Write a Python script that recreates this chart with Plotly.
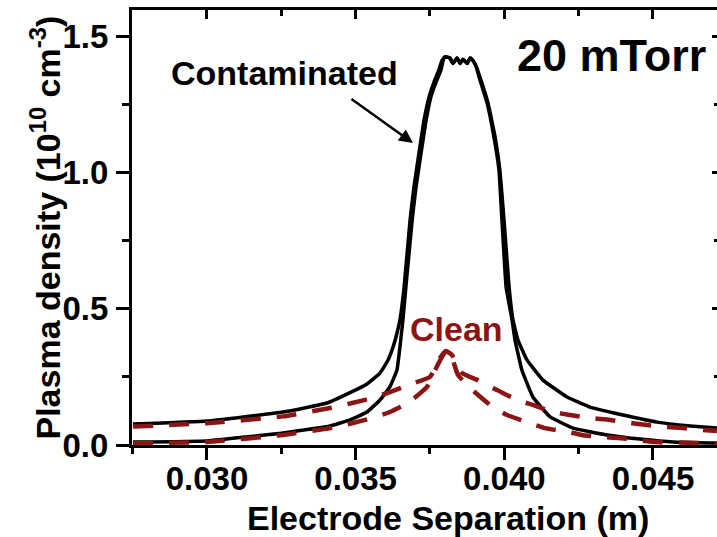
import plotly.graph_objects as go

# Electrode separation (m) and plasma density (1e10 cm^-3) profiles, 20 mTorr
contam_wide_x = [0.02751, 0.03000, 0.03256, 0.03404, 0.03481, 0.03538, 0.03582, 0.03609,
                 0.03626, 0.03639, 0.03649, 0.03663, 0.03683, 0.03696, 0.03713, 0.03730,
                 0.03747, 0.03763, 0.03780, 0.03790, 0.03801, 0.03817, 0.03827, 0.03841,
                 0.03851, 0.03861, 0.03875, 0.03885, 0.03895, 0.03905, 0.03918, 0.03945,
                 0.03969, 0.03985, 0.03999, 0.04016, 0.04029, 0.04046, 0.04076, 0.04130,
                 0.04211, 0.04288, 0.04399, 0.04514, 0.04625, 0.04715]
contam_wide_y = [0.077, 0.088, 0.121, 0.154, 0.192, 0.224, 0.264, 0.312,
                 0.360, 0.410, 0.459, 0.580, 0.825, 0.946, 1.071, 1.192,
                 1.277, 1.330, 1.376, 1.410, 1.425, 1.420, 1.400, 1.420,
                 1.400, 1.415, 1.400, 1.420, 1.410, 1.390, 1.350, 1.255,
                 1.130, 1.009, 0.825, 0.580, 0.459, 0.385, 0.312, 0.238,
                 0.176, 0.139, 0.110, 0.084, 0.070, 0.062]

contam_narrow_x = [0.02751, 0.03000, 0.03256, 0.03414, 0.03481, 0.03538, 0.03582, 0.03615,
                   0.03639, 0.03649, 0.03659, 0.03669, 0.03690, 0.03703, 0.03720, 0.03737,
                   0.03753, 0.03770, 0.03787, 0.03794, 0.03801, 0.03817, 0.03827, 0.03841,
                   0.03851, 0.03861, 0.03875, 0.03885, 0.03895, 0.03905, 0.03915, 0.03942,
                   0.03965, 0.03982, 0.03992, 0.04006, 0.04026, 0.04036, 0.04059, 0.04096,
                   0.04154, 0.04231, 0.04345, 0.04456, 0.04567, 0.04715]
contam_narrow_y = [0.011, 0.015, 0.044, 0.070, 0.092, 0.121, 0.165, 0.213,
                   0.275, 0.360, 0.459, 0.580, 0.825, 0.946, 1.071, 1.192,
                   1.277, 1.330, 1.376, 1.410, 1.425, 1.420, 1.400, 1.420,
                   1.400, 1.415, 1.400, 1.420, 1.410, 1.390, 1.350, 1.255,
                   1.130, 1.009, 0.825, 0.580, 0.459, 0.385, 0.275, 0.176,
                   0.103, 0.062, 0.037, 0.022, 0.011, 0.007]

clean_wide_x = [0.02751, 0.03000, 0.03256, 0.03414, 0.03488, 0.03555, 0.03615, 0.03676,
                0.03750, 0.03784, 0.03804, 0.03824, 0.03858, 0.03911, 0.03952, 0.03979,
                0.04043, 0.04096, 0.04164, 0.04221, 0.04288, 0.04355, 0.04423, 0.04480,
                0.04547, 0.04601, 0.04668, 0.04715]
clean_wide_y = [0.068, 0.080, 0.105, 0.136, 0.154, 0.172, 0.194, 0.220,
                0.250, 0.320, 0.345, 0.330, 0.264, 0.238, 0.213, 0.200,
                0.165, 0.147, 0.121, 0.110, 0.099, 0.092, 0.081, 0.073,
                0.066, 0.062, 0.055, 0.051]

clean_narrow_x = [0.02751, 0.03000, 0.03256, 0.03414, 0.03488, 0.03555, 0.03615, 0.03676,
                  0.03740, 0.03774, 0.03804, 0.03824, 0.03844, 0.03885, 0.03952, 0.04009,
                  0.04076, 0.04137, 0.04204, 0.04261, 0.04328, 0.04382, 0.04450, 0.04507,
                  0.04625, 0.04715]
clean_narrow_y = [0.007, 0.011, 0.037, 0.062, 0.080, 0.099, 0.121, 0.154,
                  0.213, 0.290, 0.345, 0.320, 0.257, 0.209, 0.147, 0.110,
                  0.084, 0.062, 0.050, 0.037, 0.029, 0.026, 0.018, 0.011,
                  0.008, 0.005]

X_RANGE = [0.027478, 0.047153]
Y_RANGE = [0.0, 1.596]

FONT = "Liberation Sans, Arial, Helvetica, sans-serif"
BLACK = "#000000"
RED = "#8b1515"

fig = go.Figure()

for xs, ys in [(contam_wide_x, contam_wide_y), (contam_narrow_x, contam_narrow_y)]:
    fig.add_trace(go.Scatter(x=xs, y=ys, mode="lines",
                             line=dict(color=BLACK, width=3.5, shape="spline", smoothing=0.3),
                             hoverinfo="skip"))

# dashed clean profiles sit on the overlay axes (mirrored top/right ticks)
for xs, ys in [(clean_wide_x, clean_wide_y), (clean_narrow_x, clean_narrow_y)]:
    fig.add_trace(go.Scatter(x=xs, y=ys, mode="lines", xaxis="x2", yaxis="y2",
                             line=dict(color=RED, width=4.5, dash="20px,16px",
                                       shape="spline", smoothing=0.4),
                             hoverinfo="skip"))

tickfont = dict(family=FONT, size=33, color=BLACK, weight="bold")

fig.update_layout(
    width=717, height=537,
    margin=dict(l=132, r=0, t=10, b=92, pad=0),
    paper_bgcolor="white", plot_bgcolor="white",
    showlegend=False,
    font=dict(family=FONT, color=BLACK),
    xaxis=dict(range=X_RANGE, tickmode="linear", tick0=0.030, dtick=0.005,
               tickformat=".3f", ticks="outside", ticklen=12, tickwidth=2.5,
               tickcolor=BLACK, showline=True, linewidth=3, linecolor=BLACK,
               showgrid=False, zeroline=False, tickfont=tickfont,
               ticklabelstandoff=-10,
               minor=dict(ticks="outside", ticklen=6, tickwidth=2.5, tickcolor=BLACK,
                          tick0=0.0275, dtick=0.0025, showgrid=False)),
    xaxis2=dict(range=X_RANGE, matches="x", overlaying="x", side="top",
                tickmode="linear", tick0=0.030, dtick=0.005,
                ticks="inside", ticklen=9, tickwidth=2.5, tickcolor=BLACK,
                showticklabels=False, showline=True, linewidth=3, linecolor=BLACK,
                showgrid=False, zeroline=False,
                minor=dict(ticks="inside", ticklen=6, tickwidth=2.5, tickcolor=BLACK,
                           tick0=0.0275, dtick=0.0025, showgrid=False)),
    yaxis=dict(range=Y_RANGE, tickmode="linear", tick0=0.0, dtick=0.5,
               tickformat=".1f", ticks="outside", ticklen=13, tickwidth=2.5,
               tickcolor=BLACK, showline=True, linewidth=3, linecolor=BLACK,
               showgrid=False, zeroline=False, tickfont=tickfont,
               ticklabelstandoff=1,
               minor=dict(ticks="outside", ticklen=7, tickwidth=2.5, tickcolor=BLACK,
                          tick0=0.0, dtick=0.25, showgrid=False)),
    yaxis2=dict(range=Y_RANGE, matches="y", overlaying="y", side="right",
                tickmode="linear", tick0=0.0, dtick=0.5,
                ticks="inside", ticklen=5, tickwidth=2.5, tickcolor=BLACK,
                showticklabels=False, showline=False, showgrid=False, zeroline=False,
                minor=dict(ticks="inside", ticklen=3, tickwidth=2.5, tickcolor=BLACK,
                           tick0=0.0, dtick=0.25, showgrid=False)),
)

bold = lambda size, color=BLACK: dict(family=FONT, size=size, color=color, weight="bold")

annotations = [
    dict(x=0.54, y=-0.168, xref="paper", yref="paper", showarrow=False,
         text="Electrode Separation (m)", font=bold(34),
         xanchor="center", yanchor="middle"),
    dict(x=-0.1487, y=0.5, xref="paper", yref="paper", showarrow=False,
         text="Plasma density (10<sup>10</sup> cm<sup>-3</sup>)", font=bold(34),
         textangle=-90, xanchor="center", yanchor="middle"),
    dict(x=0.032623, y=1.365, xref="x", yref="y", showarrow=False,
         text="Contaminated", font=bold(34), xanchor="center", yanchor="middle"),
    dict(x=0.036928, y=1.108, xref="x", yref="y", ax=-63, ay=-45,
         axref="pixel", ayref="pixel", showarrow=True, text="",
         arrowhead=2, arrowsize=1.1, arrowwidth=2.5, arrowcolor=BLACK, standoff=0),
    dict(x=0.038408, y=0.425, xref="x", yref="y", showarrow=False,
         text="Clean", font=bold(34, RED), xanchor="center", yanchor="middle"),
    dict(x=0.043588, y=1.43, xref="x", yref="y", showarrow=False,
         text="20 mTorr", font=bold(45), xanchor="center", yanchor="middle"),
]
fig.update_layout(annotations=annotations)

fig.write_html("out.html")
